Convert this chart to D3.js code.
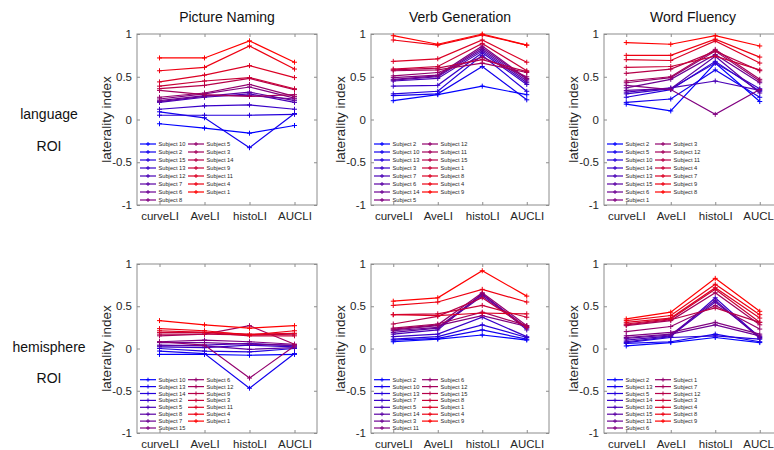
<!DOCTYPE html>
<html>
<head>
<meta charset="utf-8">
<script src="https://cdn.jsdelivr.net/npm/d3@7"></script>
<style>
    body { margin: 0; background: #fff; }
    svg { display: block; font-family: 'Liberation Sans', Arial, sans-serif; }
</style>
</head>
<body>
<div id="visual-container"></div>
<script>
const categories = ['curveLI', 'AveLI', 'histoLI', 'AUCLI']
const tasks = ['Picture Naming', 'Verb Generation', 'Word Fluency']
const roiLabels = [['language', 'ROI'], ['hemisphere', 'ROI']]
const yTicks = [1, 0.5, 0, -0.5, -1]

// subjects listed in legend order, blue first, red last
const pnLangSubjects = [10, 2, 15, 13, 12, 7, 6, 8, 5, 3, 14, 9, 11, 4, 1]
const pnLangValues = [
    [-0.05, -0.10, -0.16, -0.07],
    [0.09, 0.02, -0.33, 0.07],
    [0.05, 0.05, 0.05, 0.06],
    [0.12, 0.16, 0.17, 0.12],
    [0.20, 0.26, 0.30, 0.20],
    [0.21, 0.27, 0.32, 0.22],
    [0.22, 0.28, 0.28, 0.24],
    [0.24, 0.30, 0.38, 0.25],
    [0.26, 0.31, 0.41, 0.27],
    [0.34, 0.29, 0.27, 0.29],
    [0.36, 0.40, 0.48, 0.35],
    [0.39, 0.45, 0.49, 0.36],
    [0.44, 0.52, 0.63, 0.49],
    [0.57, 0.61, 0.86, 0.59],
    [0.72, 0.72, 0.92, 0.67]
]

const vgLangSubjects = [2, 10, 13, 3, 7, 6, 14, 5, 12, 11, 15, 1, 8, 4, 9]
const vgLangValues = [
    [0.22, 0.29, 0.39, 0.29],
    [0.28, 0.30, 0.62, 0.23],
    [0.30, 0.33, 0.75, 0.33],
    [0.39, 0.40, 0.78, 0.41],
    [0.45, 0.48, 0.80, 0.43],
    [0.46, 0.50, 0.82, 0.45],
    [0.47, 0.51, 0.84, 0.47],
    [0.49, 0.52, 0.86, 0.48],
    [0.51, 0.55, 0.73, 0.50],
    [0.57, 0.58, 0.66, 0.55],
    [0.58, 0.60, 0.70, 0.56],
    [0.59, 0.62, 0.89, 0.57],
    [0.68, 0.71, 0.93, 0.67],
    [0.93, 0.87, 0.99, 0.87],
    [0.98, 0.88, 1.00, 0.87]
]

const wfLangSubjects = [2, 5, 10, 14, 13, 15, 6, 1, 3, 12, 11, 4, 7, 9, 8]
const wfLangValues = [
    [0.18, 0.10, 0.66, 0.21],
    [0.20, 0.24, 0.58, 0.26],
    [0.26, 0.35, 0.68, 0.33],
    [0.30, 0.36, 0.66, 0.36],
    [0.32, 0.37, 0.45, 0.34],
    [0.34, 0.36, 0.74, 0.31],
    [0.37, 0.47, 0.76, 0.43],
    [0.40, 0.35, 0.06, 0.35],
    [0.43, 0.49, 0.80, 0.45],
    [0.45, 0.50, 0.82, 0.47],
    [0.54, 0.59, 0.80, 0.57],
    [0.61, 0.62, 0.74, 0.58],
    [0.70, 0.69, 0.92, 0.66],
    [0.75, 0.75, 0.94, 0.73],
    [0.90, 0.88, 0.98, 0.86]
]

const pnHemiSubjects = [10, 13, 14, 2, 5, 8, 7, 15, 6, 12, 9, 3, 11, 4, 1]
const pnHemiValues = [
    [-0.07, -0.07, -0.08, -0.07],
    [-0.03, -0.06, -0.47, -0.06],
    [0.00, -0.03, -0.04, 0.00],
    [0.02, 0.01, 0.04, 0.02],
    [0.03, 0.04, 0.06, 0.03],
    [0.04, 0.03, -0.01, 0.01],
    [0.07, 0.07, 0.05, 0.04],
    [0.08, 0.10, 0.08, 0.05],
    [0.08, 0.04, -0.35, 0.03],
    [0.15, 0.17, 0.27, 0.05],
    [0.17, 0.17, 0.16, 0.17],
    [0.19, 0.19, 0.15, 0.15],
    [0.21, 0.19, 0.17, 0.18],
    [0.235, 0.21, 0.16, 0.21],
    [0.33, 0.28, 0.24, 0.27]
]

const vgHemiSubjects = [2, 10, 13, 7, 5, 14, 3, 11, 6, 12, 15, 8, 1, 4, 9]
const vgHemiValues = [
    [0.08, 0.11, 0.16, 0.10],
    [0.10, 0.12, 0.22, 0.11],
    [0.11, 0.14, 0.28, 0.13],
    [0.14, 0.17, 0.37, 0.14],
    [0.17, 0.22, 0.65, 0.22],
    [0.19, 0.24, 0.62, 0.24],
    [0.21, 0.25, 0.64, 0.25],
    [0.22, 0.27, 0.39, 0.26],
    [0.23, 0.28, 0.66, 0.27],
    [0.24, 0.29, 0.43, 0.27],
    [0.29, 0.38, 0.60, 0.25],
    [0.40, 0.41, 0.51, 0.37],
    [0.40, 0.39, 0.42, 0.41],
    [0.51, 0.55, 0.70, 0.55],
    [0.56, 0.60, 0.92, 0.62]
]

const wfHemiSubjects = [2, 13, 5, 14, 10, 15, 11, 6, 1, 7, 12, 3, 4, 8, 9]
const wfHemiValues = [
    [0.03, 0.07, 0.13, 0.07],
    [0.06, 0.08, 0.17, 0.08],
    [0.07, 0.13, 0.15, 0.11],
    [0.08, 0.14, 0.60, 0.13],
    [0.10, 0.15, 0.55, 0.14],
    [0.12, 0.16, 0.57, 0.12],
    [0.13, 0.17, 0.28, 0.15],
    [0.15, 0.19, 0.31, 0.17],
    [0.20, 0.26, 0.51, 0.23],
    [0.27, 0.33, 0.66, 0.28],
    [0.28, 0.34, 0.48, 0.31],
    [0.29, 0.35, 0.70, 0.31],
    [0.31, 0.36, 0.72, 0.36],
    [0.33, 0.39, 0.76, 0.40],
    [0.35, 0.43, 0.83, 0.44]
]

const panels = [
    [pnLangSubjects, pnLangValues], [vgLangSubjects, vgLangValues], [wfLangSubjects, wfLangValues],
    [pnHemiSubjects, pnHemiValues], [vgHemiSubjects, vgHemiValues], [wfHemiSubjects, wfHemiValues]
]

let width = 774
let height = 450
let colLeft = [137, 371, 604]
let colWidth = [180, 178, 178]
let rowTop = [34, 264]
let rowHeight = [171, 169]
let legendStep = [8, 6.9]
let boxColor = '#8c8c8c'
let textColor = '#262626'

const container = document.getElementById('visual-container')
let svg = d3.select(container)
    .append('svg')
    .attr('width', width)
    .attr('height', height)

const lineColor = (i, n) => d3.interpolateRgb('#0000ff', '#ff0000')(i / (n - 1))
const plusPath = 'M-2.5,0H2.5M0,-2.5V2.5'

const drawPanel = (row, col) => {
    let [subjects, values] = panels[row * 3 + col]
    let plotW = colWidth[col]
    let plotH = rowHeight[row]
    let g = svg.append('g')
        .attr('transform', `translate(${colLeft[col]},${rowTop[row]})`)

    let xScale = d3.scaleLinear().domain([0.5, 4.5]).range([0, plotW])
    let yScale = d3.scaleLinear().domain([-1, 1]).range([plotH, 0])

    // axes with inward ticks, like matlab
    let xAxis = d3.axisBottom(xScale)
        .tickValues([1, 2, 3, 4])
        .tickFormat(d => categories[d - 1])
        .tickSizeInner(-3)
        .tickSizeOuter(0)
        .tickPadding(7)
    g.append('g')
        .attr('class', 'axis')
        .attr('transform', `translate(0,${plotH})`)
        .call(xAxis)
    g.append('g')
        .attr('class', 'axis')
        .call(d3.axisTop(xScale).tickValues([1, 2, 3, 4]).tickFormat('').tickSizeInner(-3).tickSizeOuter(0))

    let yAxis = d3.axisLeft(yScale)
        .tickValues(yTicks)
        .tickFormat(d => d3.format('')(d).replace('−', '-'))
        .tickSizeInner(-3)
        .tickSizeOuter(0)
        .tickPadding(5)
    g.append('g')
        .attr('class', 'axis')
        .call(yAxis)
    g.append('g')
        .attr('class', 'axis')
        .attr('transform', `translate(${plotW},0)`)
        .call(d3.axisRight(yScale).tickValues(yTicks).tickFormat('').tickSizeInner(-3).tickSizeOuter(0))

    g.selectAll('.axis path').remove()
    g.selectAll('.axis line').attr('stroke', boxColor)
    g.selectAll('.axis text')
        .attr('fill', textColor)
        .style('font-size', '11.5px')

    g.append('rect')
        .attr('width', plotW)
        .attr('height', plotH)
        .attr('fill', 'none')
        .attr('stroke', boxColor)
        .attr('stroke-width', 1)

    let line = d3.line()
        .x((d, j) => xScale(j + 1))
        .y(d => yScale(d))

    let series = g.selectAll('.series')
        .data(values)
        .enter()
        .append('g')
        .attr('class', 'series')

    series.append('path')
        .attr('d', d => line(d))
        .attr('fill', 'none')
        .attr('stroke', (d, i) => lineColor(i, values.length))
        .attr('stroke-width', 1.2)

    series.each(function (d, i) {
        d3.select(this).selectAll('.mark')
            .data(d)
            .enter()
            .append('path')
            .attr('class', 'mark')
            .attr('d', plusPath)
            .attr('transform', (v, j) => `translate(${xScale(j + 1)},${yScale(v)})`)
            .attr('stroke', lineColor(i, values.length))
            .attr('stroke-width', 1)
    })

    // legend, two columns, bottom left, no box
    let step = legendStep[row]
    let legend = g.append('g')
        .attr('transform', `translate(3,${plotH - 5 - 7 * step})`)
    let items = legend.selectAll('.item')
        .data(subjects)
        .enter()
        .append('g')
        .attr('class', 'item')
        .attr('transform', (d, i) => `translate(${i < 8 ? 0 : 48},${(i % 8) * step})`)
    items.append('line')
        .attr('x1', 0)
        .attr('x2', 16)
        .attr('stroke', (d, i) => lineColor(i, subjects.length))
        .attr('stroke-width', 1.2)
    items.append('path')
        .attr('d', 'M-2,0H2M0,-2V2')
        .attr('transform', 'translate(8,0)')
        .attr('stroke', (d, i) => lineColor(i, subjects.length))
    items.append('text')
        .attr('x', 18.5)
        .attr('dy', '0.35em')
        .attr('fill', textColor)
        .style('font-size', '5.7px')
        .text(d => 'Subject ' + d)

    // y label
    g.append('text')
        .attr('transform', `translate(${-26},${plotH / 2}) rotate(-90)`)
        .attr('text-anchor', 'middle')
        .attr('fill', textColor)
        .style('font-size', '13.5px')
        .text('laterality index')

    if (row === 0) {
        g.append('text')
            .attr('x', plotW / 2)
            .attr('y', -12)
            .attr('text-anchor', 'middle')
            .attr('fill', '#111')
            .style('font-size', '14px')
            .text(tasks[col])
    }
}

const drawRowLabels = () => {
    let labelY = [[119, 151], [352, 383]]
    roiLabels.forEach((lines, r) => {
        lines.forEach((t, k) => {
            svg.append('text')
                .attr('x', 49)
                .attr('y', labelY[r][k])
                .attr('text-anchor', 'middle')
                .attr('fill', '#111')
                .style('font-size', '14px')
                .text(t)
        })
    })
}

for (let r = 0; r < 2; r++) {
    for (let c = 0; c < 3; c++) {
        drawPanel(r, c)
    }
}
drawRowLabels()
</script>
</body>
</html>
